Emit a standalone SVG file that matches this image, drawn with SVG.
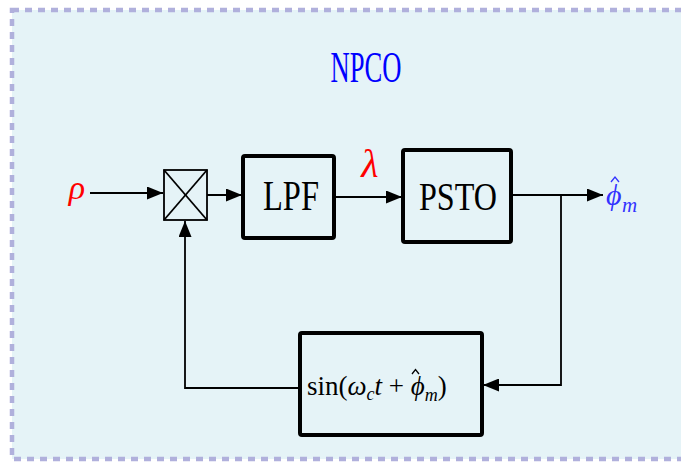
<svg xmlns="http://www.w3.org/2000/svg" width="681" height="462" viewBox="0 0 681 462">
<style>
.blk{fill:none;stroke:#000;stroke-width:4;stroke-linejoin:round}
.ln{fill:none;stroke:#000;stroke-width:1.8}
.hat{fill:none;stroke-width:1.3;stroke-linejoin:miter}
.rm{font-family:"Liberation Serif","DejaVu Serif",serif}
.it{font-family:"Liberation Serif","DejaVu Serif",serif;font-style:italic}
</style>
<defs>
<marker id="ah" viewBox="0 0 16 13" refX="16" refY="6.5" markerWidth="16" markerHeight="13" markerUnits="userSpaceOnUse" orient="auto">
<path d="M0,0 L16,6.5 L0,13 Z" fill="#000"/>
</marker>
</defs>
<rect x="0" y="0" width="681" height="462" fill="#fff"/>
<rect id="frame" x="12" y="10" width="690" height="449" fill="#e5f3f7" stroke="#b0b0dc" stroke-width="4.5" stroke-dasharray="7 6"/>
<text id="title" class="rm" x="366" y="82" font-size="44" fill="#0000ff" text-anchor="middle" textLength="71" lengthAdjust="spacingAndGlyphs">NPCO</text>

<g id="connectors">
<line class="ln" x1="90" y1="193" x2="163" y2="193" marker-end="url(#ah)"/>
<line class="ln" x1="207" y1="195" x2="242" y2="195" marker-end="url(#ah)"/>
<line class="ln" x1="335" y1="197" x2="402" y2="197" marker-end="url(#ah)"/>
<line class="ln" x1="511" y1="195" x2="603" y2="195" marker-end="url(#ah)"/>
<polyline class="ln" points="561,195 561,385 483,385" marker-end="url(#ah)"/>
<polyline class="ln" points="299,388 185,388 185,221" marker-end="url(#ah)"/>
</g>

<g id="input">
<text class="it" x="77" y="199" font-size="34" fill="#ff0000" text-anchor="middle">ρ</text>
</g>

<g id="multiplier">
<rect x="164" y="170" width="43" height="50" fill="none" stroke="#000" stroke-width="1.8"/>
<line class="ln" x1="164" y1="170" x2="207" y2="220"/>
<line class="ln" x1="207" y1="170" x2="164" y2="220"/>
</g>

<g id="lpf">
<rect class="blk" x="243" y="156" width="91" height="82" rx="2"/>
<text class="rm" x="291" y="210" font-size="42" text-anchor="middle" textLength="56" lengthAdjust="spacingAndGlyphs">LPF</text>
</g>

<g id="lambda">
<text class="it" x="370" y="177" font-size="40" fill="#ff0000" text-anchor="middle">λ</text>
</g>

<g id="psto">
<rect class="blk" x="403" y="150" width="108" height="92" rx="2"/>
<text class="rm" x="458" y="210" font-size="39" text-anchor="middle" textLength="78" lengthAdjust="spacingAndGlyphs">PSTO</text>
</g>

<g id="output">
<text class="it" x="606" y="205" font-size="30" fill="#3333ff">ϕ<tspan x="622" y="212" font-size="21">m</tspan></text>
<polyline class="hat" stroke="#3333ff" points="611,182 615,177 619,182"/>
</g>

<g id="feedback">
<rect class="blk" x="300" y="333" width="182" height="102" rx="2"/>
<text class="rm" x="307" y="395" font-size="27">sin(<tspan class="it">ω</tspan><tspan class="it" y="400" font-size="18">c</tspan><tspan class="it" y="395">t</tspan><tspan> + </tspan><tspan class="it">ϕ</tspan><tspan class="it" y="401" font-size="18">m</tspan><tspan y="395">)</tspan></text>
<polyline class="hat" stroke="#000" points="412,374 415.5,369.5 419,374"/>
</g>
</svg>
